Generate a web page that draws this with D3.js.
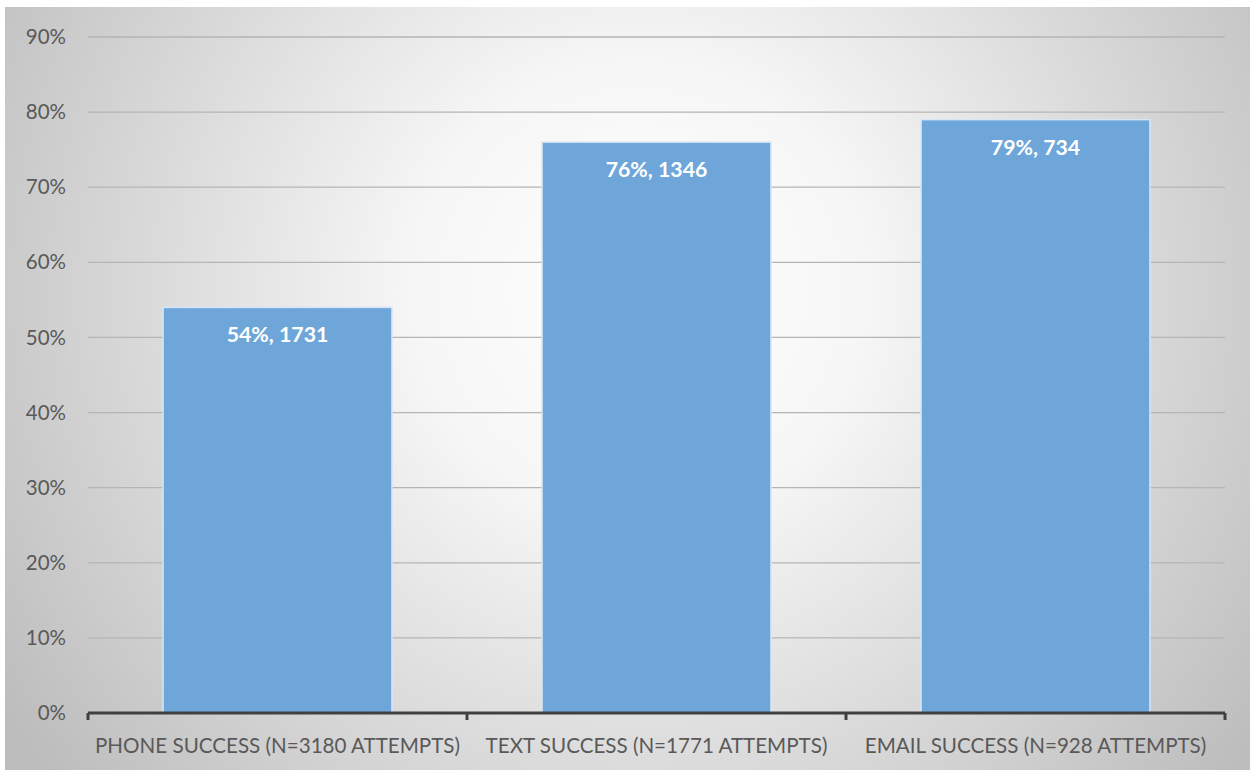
<!DOCTYPE html>
<html>
<head>
<meta charset="utf-8">
<script src="https://cdn.jsdelivr.net/npm/d3@7"></script>
<style>
  html, body { margin: 0; padding: 0; background: #ffffff; }
  svg { display: block; }
</style>
</head>
<body>
<svg id="chart" width="1253" height="772"></svg>
<script>
// Contact success by channel
const categories = [
  "PHONE SUCCESS (N=3180 ATTEMPTS)",
  "TEXT SUCCESS (N=1771 ATTEMPTS)",
  "EMAIL SUCCESS (N=928 ATTEMPTS)"
];
const successRate = [0.54, 0.76, 0.79];
const successCount = [1731, 1346, 734];
const yTicks = [0, 0.1, 0.2, 0.3, 0.4, 0.5, 0.6, 0.7, 0.8, 0.9];

const W = 1253, H = 772;
const svg = d3.select("#chart");
const font = "Lato, 'Open Sans', sans-serif";

// Chart area background: radial white-to-grey fill
const defs = svg.append("defs");
const grad = defs.append("radialGradient")
  .attr("id", "bg")
  .attr("gradientUnits", "userSpaceOnUse")
  .attr("cx", 640).attr("cy", 290).attr("r", 760);
grad.append("stop").attr("offset", "0%").attr("stop-color", "#ffffff");
grad.append("stop").attr("offset", "30%").attr("stop-color", "#f6f6f6");
grad.append("stop").attr("offset", "100%").attr("stop-color", "#bdbdbd");

svg.append("rect")
  .attr("x", 5).attr("y", 7).attr("width", W - 8).attr("height", H - 9)
  .attr("fill", "url(#bg)");

const margin = { left: 88, right: 1225, top: 37, bottom: 713 };

const x = d3.scaleBand()
  .domain(categories)
  .range([margin.left, margin.right])
  .paddingInner(0.396)
  .paddingOuter(0.198);

const y = d3.scaleLinear()
  .domain([0, 0.9])
  .range([margin.bottom, margin.top]);

// Gridlines
svg.append("g")
  .selectAll("line")
  .data(yTicks.filter(d => d > 0))
  .join("line")
  .attr("x1", margin.left).attr("x2", margin.right)
  .attr("y1", d => y(d)).attr("y2", d => y(d))
  .attr("stroke", "#b5b5b5")
  .attr("stroke-width", 1.3);

// Y axis labels
const yAxis = d3.axisLeft(y)
  .tickValues(yTicks)
  .tickFormat(d3.format(".0%"))
  .tickSize(0)
  .tickPadding(22);
const yg = svg.append("g")
  .attr("transform", `translate(${margin.left},0)`)
  .call(yAxis);
yg.select(".domain").remove();
yg.selectAll("text")
  .attr("font-family", font)
  .attr("font-size", 20.5)
  .attr("fill", "#595959");

// Bars
svg.append("g")
  .selectAll("rect")
  .data(categories)
  .join("rect")
  .attr("x", d => x(d))
  .attr("width", x.bandwidth())
  .attr("y", (d, i) => y(successRate[i]))
  .attr("height", (d, i) => y(0) - y(successRate[i]))
  .attr("fill", "#6fa6da")
  .attr("stroke", "#d6e6f6")
  .attr("stroke-width", 1.5);

// Value labels
svg.append("g")
  .selectAll("text")
  .data(categories)
  .join("text")
  .attr("x", d => x(d) + x.bandwidth() / 2)
  .attr("y", (d, i) => y(successRate[i]) + 35)
  .attr("text-anchor", "middle")
  .attr("font-family", font)
  .attr("font-weight", "bold")
  .attr("font-size", 21.3)
  .attr("fill", "#ffffff")
  .text((d, i) => `${Math.round(successRate[i] * 100)}%, ${successCount[i]}`);

// X axis with boundary ticks between categories
const step = x.step();
const boundaries = d3.range(categories.length + 1).map(i => margin.left + i * step);
const xg = svg.append("g");
xg.append("line")
  .attr("x1", margin.left).attr("x2", margin.right)
  .attr("y1", y(0)).attr("y2", y(0))
  .attr("stroke", "#404040").attr("stroke-width", 3);
xg.selectAll("line.tick")
  .data(boundaries)
  .join("line")
  .attr("class", "tick")
  .attr("x1", d => d).attr("x2", d => d)
  .attr("y1", y(0)).attr("y2", y(0) + 7)
  .attr("stroke", "#404040").attr("stroke-width", 3);

const xAxis = d3.axisBottom(x).tickSize(0).tickPadding(25);
const xl = svg.append("g")
  .attr("transform", `translate(0,${y(0)})`)
  .call(xAxis);
xl.select(".domain").remove();
xl.selectAll("text")
  .attr("font-family", font)
  .attr("font-size", 20.6)
  .attr("fill", "#595959");
</script>
</body>
</html>
